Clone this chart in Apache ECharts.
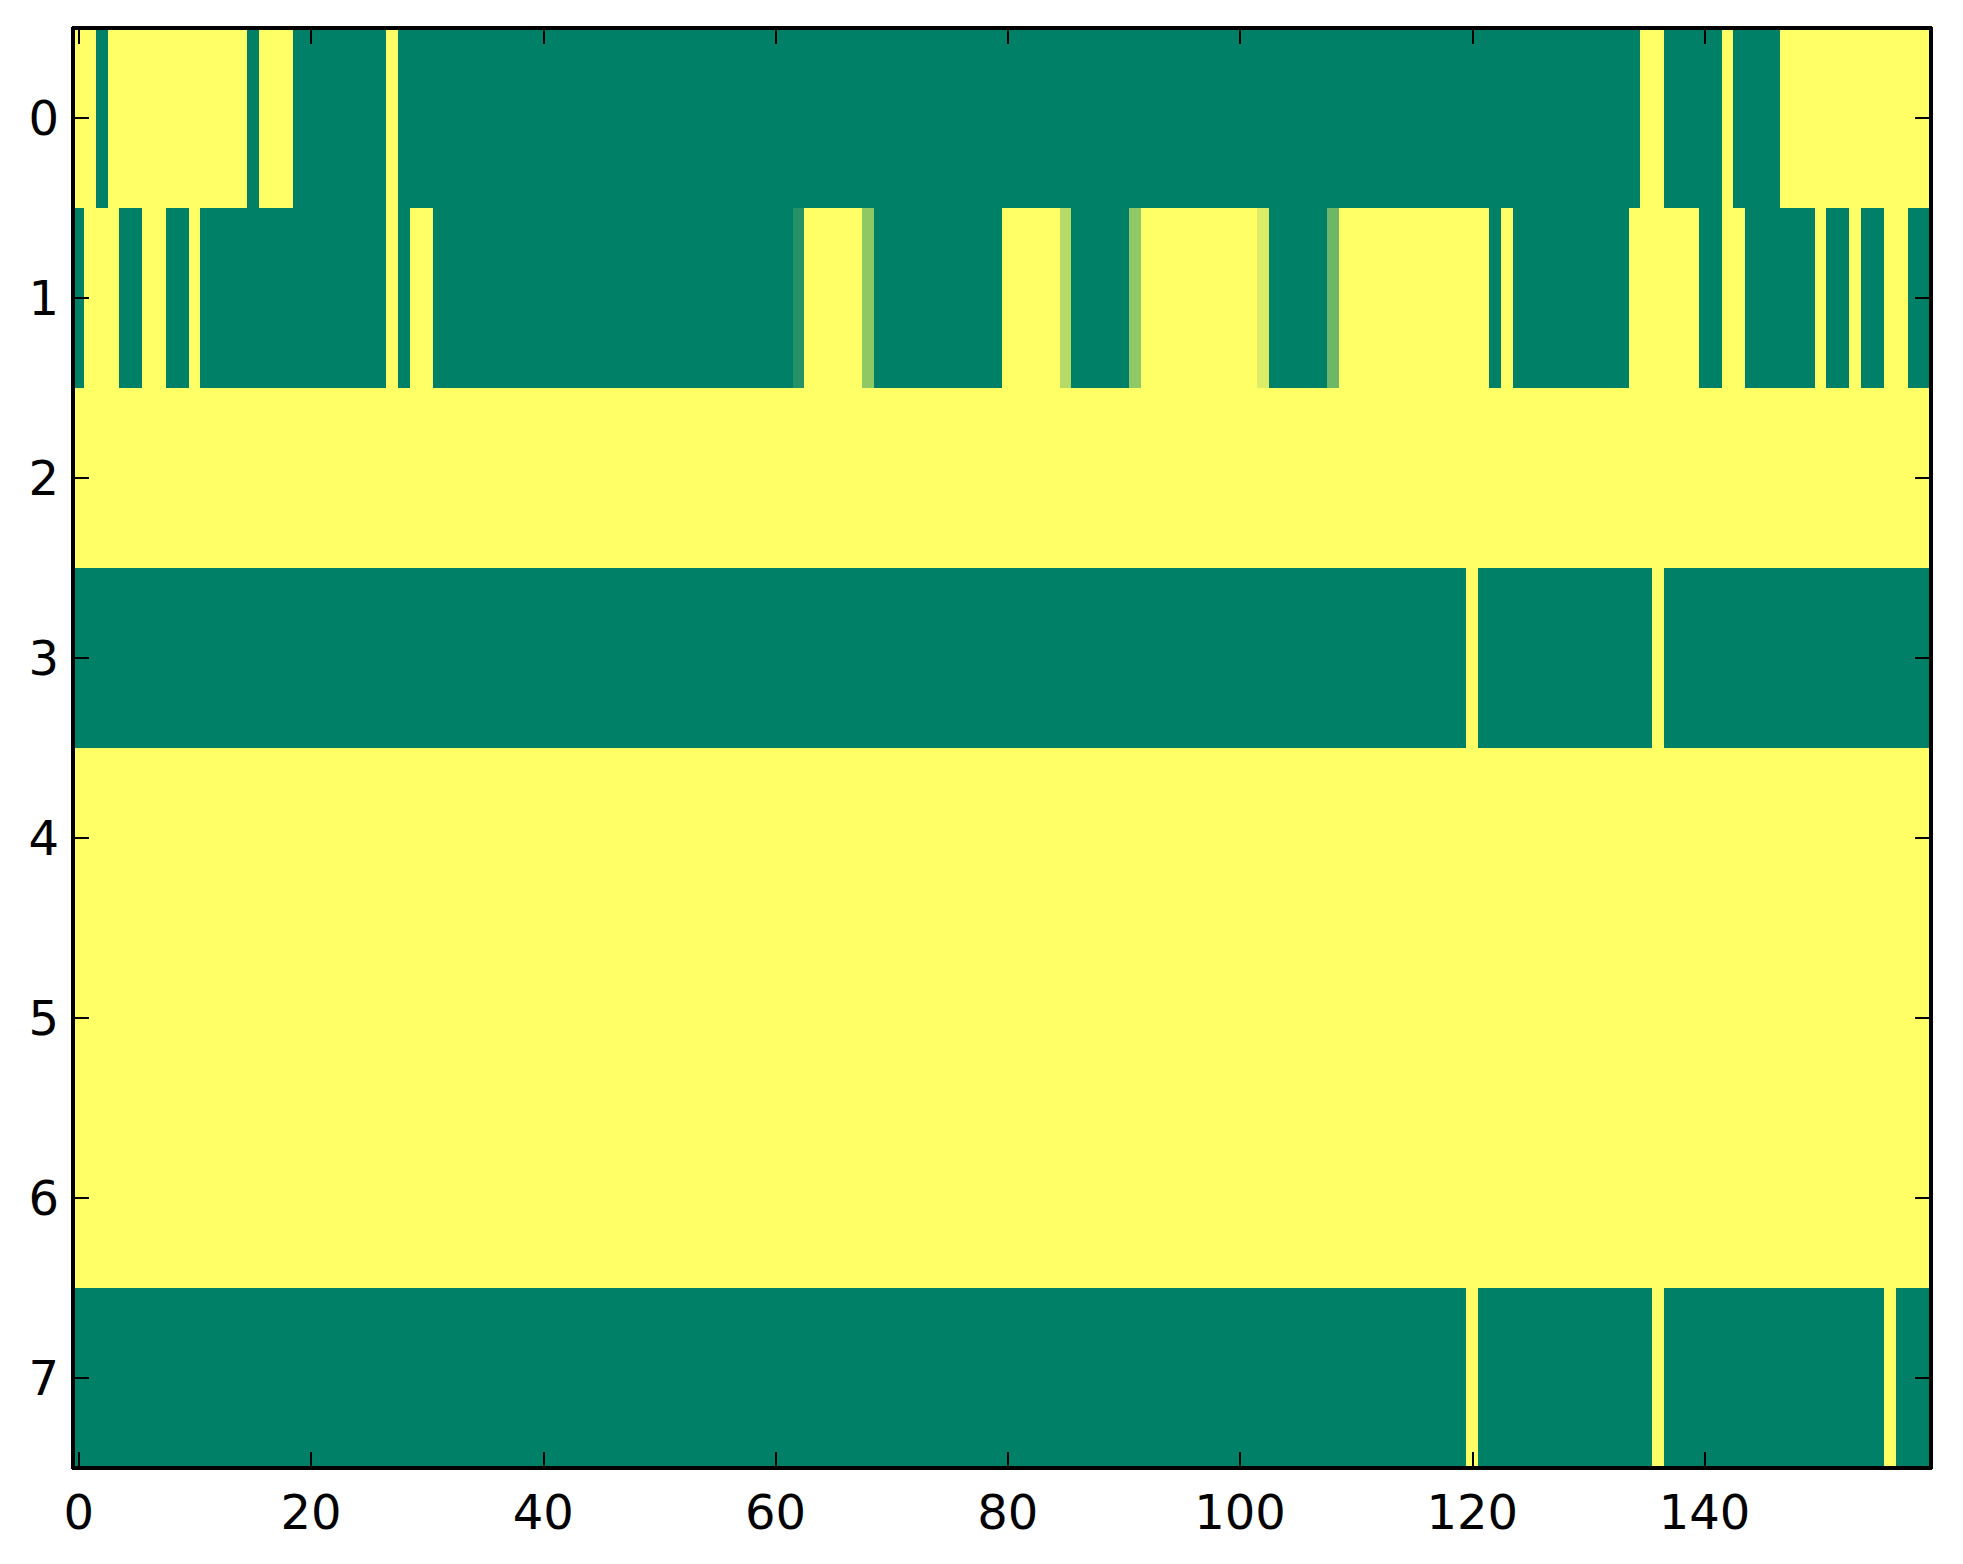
<!DOCTYPE html>
<html>
<head>
<meta charset="utf-8">
<script src="https://cdn.jsdelivr.net/npm/echarts@6/dist/echarts.min.js"></script>
<style>
html,body{margin:0;padding:0;background:#ffffff;}
#chart{width:1963px;height:1564px;}
#chart svg path{shape-rendering:crispEdges;}
</style>
</head>
<body>
<div id="chart"></div>
<script>
// ---- data (0 = green, 1 = yellow) ----
const rowLabels = ['0','1','2','3','4','5','6','7'];
const xTickLabels = [0, 20, 40, 60, 80, 100, 120, 140];

const row0 = [
  1,1,0,1,1,1,1,1,1,1, 1,1,1,1,1,0,1,1,1,0, 0,0,0,0,0,0,0,1,0,0, 0,0,0,0,0,0,0,0,0,0,
  0,0,0,0,0,0,0,0,0,0, 0,0,0,0,0,0,0,0,0,0, 0,0,0,0,0,0,0,0,0,0, 0,0,0,0,0,0,0,0,0,0,
  0,0,0,0,0,0,0,0,0,0, 0,0,0,0,0,0,0,0,0,0, 0,0,0,0,0,0,0,0,0,0, 0,0,0,0,0,0,0,0,0,0,
  0,0,0,0,0,0,0,0,0,0, 0,0,0,0,0,1,1,0,0,0, 0,0,1,0,0,0,0,1,1,1, 1,1,1,1,1,1,1,1,1,1
];
const row1 = [
  0,1,1,1,0,0,1,1,0,0, 1,0,0,0,0,0,0,0,0,0, 0,0,0,0,0,0,0,1,0,1, 1,0,0,0,0,0,0,0,0,0,
  0,0,0,0,0,0,0,0,0,0, 0,0,0,0,0,0,0,0,0,0, 0,0,0.14,1,1,1,1,1,0.57,0, 0,0,0,0,0,0,0,0,0,0,
  1,1,1,1,1,0.71,0,0,0,0, 0,0.57,1,1,1,1,1,1,1,1, 1,1,0.86,0,0,0,0,0,0.43,1, 1,1,1,1,1,1,1,1,1,1,
  1,1,0,1,0,0,0,0,0,0, 0,0,0,0,1,1,1,1,1,1, 0,0,1,1,0,0,0,0,0,0, 1,0,0,1,0,0,1,1,0,0
];
const row2 = [
  1,1,1,1,1,1,1,1,1,1, 1,1,1,1,1,1,1,1,1,1, 1,1,1,1,1,1,1,1,1,1, 1,1,1,1,1,1,1,1,1,1,
  1,1,1,1,1,1,1,1,1,1, 1,1,1,1,1,1,1,1,1,1, 1,1,1,1,1,1,1,1,1,1, 1,1,1,1,1,1,1,1,1,1,
  1,1,1,1,1,1,1,1,1,1, 1,1,1,1,1,1,1,1,1,1, 1,1,1,1,1,1,1,1,1,1, 1,1,1,1,1,1,1,1,1,1,
  1,1,1,1,1,1,1,1,1,1, 1,1,1,1,1,1,1,1,1,1, 1,1,1,1,1,1,1,1,1,1, 1,1,1,1,1,1,1,1,1,1
];
const row3 = [
  0,0,0,0,0,0,0,0,0,0, 0,0,0,0,0,0,0,0,0,0, 0,0,0,0,0,0,0,0,0,0, 0,0,0,0,0,0,0,0,0,0,
  0,0,0,0,0,0,0,0,0,0, 0,0,0,0,0,0,0,0,0,0, 0,0,0,0,0,0,0,0,0,0, 0,0,0,0,0,0,0,0,0,0,
  0,0,0,0,0,0,0,0,0,0, 0,0,0,0,0,0,0,0,0,0, 0,0,0,0,0,0,0,0,0,0, 0,0,0,0,0,0,0,0,0,0,
  1,0,0,0,0,0,0,0,0,0, 0,0,0,0,0,0,1,0,0,0, 0,0,0,0,0,0,0,0,0,0, 0,0,0,0,0,0,0,0,0,0
];
const row4 = [
  1,1,1,1,1,1,1,1,1,1, 1,1,1,1,1,1,1,1,1,1, 1,1,1,1,1,1,1,1,1,1, 1,1,1,1,1,1,1,1,1,1,
  1,1,1,1,1,1,1,1,1,1, 1,1,1,1,1,1,1,1,1,1, 1,1,1,1,1,1,1,1,1,1, 1,1,1,1,1,1,1,1,1,1,
  1,1,1,1,1,1,1,1,1,1, 1,1,1,1,1,1,1,1,1,1, 1,1,1,1,1,1,1,1,1,1, 1,1,1,1,1,1,1,1,1,1,
  1,1,1,1,1,1,1,1,1,1, 1,1,1,1,1,1,1,1,1,1, 1,1,1,1,1,1,1,1,1,1, 1,1,1,1,1,1,1,1,1,1
];
const row5 = [
  1,1,1,1,1,1,1,1,1,1, 1,1,1,1,1,1,1,1,1,1, 1,1,1,1,1,1,1,1,1,1, 1,1,1,1,1,1,1,1,1,1,
  1,1,1,1,1,1,1,1,1,1, 1,1,1,1,1,1,1,1,1,1, 1,1,1,1,1,1,1,1,1,1, 1,1,1,1,1,1,1,1,1,1,
  1,1,1,1,1,1,1,1,1,1, 1,1,1,1,1,1,1,1,1,1, 1,1,1,1,1,1,1,1,1,1, 1,1,1,1,1,1,1,1,1,1,
  1,1,1,1,1,1,1,1,1,1, 1,1,1,1,1,1,1,1,1,1, 1,1,1,1,1,1,1,1,1,1, 1,1,1,1,1,1,1,1,1,1
];
const row6 = [
  1,1,1,1,1,1,1,1,1,1, 1,1,1,1,1,1,1,1,1,1, 1,1,1,1,1,1,1,1,1,1, 1,1,1,1,1,1,1,1,1,1,
  1,1,1,1,1,1,1,1,1,1, 1,1,1,1,1,1,1,1,1,1, 1,1,1,1,1,1,1,1,1,1, 1,1,1,1,1,1,1,1,1,1,
  1,1,1,1,1,1,1,1,1,1, 1,1,1,1,1,1,1,1,1,1, 1,1,1,1,1,1,1,1,1,1, 1,1,1,1,1,1,1,1,1,1,
  1,1,1,1,1,1,1,1,1,1, 1,1,1,1,1,1,1,1,1,1, 1,1,1,1,1,1,1,1,1,1, 1,1,1,1,1,1,1,1,1,1
];
const row7 = [
  0,0,0,0,0,0,0,0,0,0, 0,0,0,0,0,0,0,0,0,0, 0,0,0,0,0,0,0,0,0,0, 0,0,0,0,0,0,0,0,0,0,
  0,0,0,0,0,0,0,0,0,0, 0,0,0,0,0,0,0,0,0,0, 0,0,0,0,0,0,0,0,0,0, 0,0,0,0,0,0,0,0,0,0,
  0,0,0,0,0,0,0,0,0,0, 0,0,0,0,0,0,0,0,0,0, 0,0,0,0,0,0,0,0,0,0, 0,0,0,0,0,0,0,0,0,0,
  1,0,0,0,0,0,0,0,0,0, 0,0,0,0,0,0,1,0,0,0, 0,0,0,0,0,0,0,0,0,0, 0,0,0,0,0,0,1,0,0,0
];

const rows = [row0, row1, row2, row3, row4, row5, row6, row7];
const columnCategories = row0.map((_, i) => String(i));

// ---- build heatmap cells ----
const cells = [];
rows.forEach((row, r) => {
  row.forEach((v, c) => { cells.push([c, r, v]); });
});

const isXTick = (index) => xTickLabels.indexOf(index) !== -1;

const FONT = 'DejaVu Sans';
const lineStyle = { color: '#000000', width: 3.5 };
const tickStyle = { color: '#000000', width: 2 };

const chart = echarts.init(document.getElementById('chart'), null, { renderer: 'svg' });
chart.setOption({
  animation: false,
  backgroundColor: '#ffffff',
  grid: { left: 73, top: 28, width: 1858, height: 1440, containLabel: false },
  xAxis: [
    {
      type: 'category', data: columnCategories, position: 'bottom', z: 10,
      axisLine: { show: true, lineStyle: lineStyle },
      axisTick: { show: true, inside: true, length: 16, alignWithLabel: true, interval: isXTick, lineStyle: tickStyle },
      axisLabel: { show: true, interval: isXTick, fontSize: 48, fontFamily: FONT, color: '#000000', margin: 20 },
      splitLine: { show: false }, splitArea: { show: false }
    },
    {
      type: 'category', data: columnCategories, position: 'top', z: 10,
      axisLine: { show: true, lineStyle: lineStyle },
      axisTick: { show: true, inside: true, length: 16, alignWithLabel: true, interval: isXTick, lineStyle: tickStyle },
      axisLabel: { show: false },
      splitLine: { show: false }, splitArea: { show: false }
    }
  ],
  yAxis: [
    {
      type: 'category', data: rowLabels, inverse: true, position: 'left', z: 10,
      axisLine: { show: true, lineStyle: lineStyle },
      axisTick: { show: true, inside: true, length: 16, alignWithLabel: true, interval: 0, lineStyle: tickStyle },
      axisLabel: { show: true, interval: 0, fontSize: 48, fontFamily: FONT, color: '#000000', margin: 14 },
      splitLine: { show: false }, splitArea: { show: false }
    },
    {
      type: 'category', data: rowLabels, inverse: true, position: 'right', z: 10,
      axisLine: { show: true, lineStyle: lineStyle },
      axisTick: { show: true, inside: true, length: 16, alignWithLabel: true, interval: 0, lineStyle: tickStyle },
      axisLabel: { show: false },
      splitLine: { show: false }, splitArea: { show: false }
    }
  ],
  visualMap: {
    show: false, type: 'continuous', min: 0, max: 1, dimension: 2, seriesIndex: 0,
    inRange: { color: ['#008066', '#ffff66'] }
  },
  series: [{
    type: 'heatmap', xAxisIndex: 0, yAxisIndex: 0, data: cells,
    itemStyle: { borderWidth: 0 },
    emphasis: { disabled: true },
    progressive: 0
  }]
});
</script>
</body>
</html>
